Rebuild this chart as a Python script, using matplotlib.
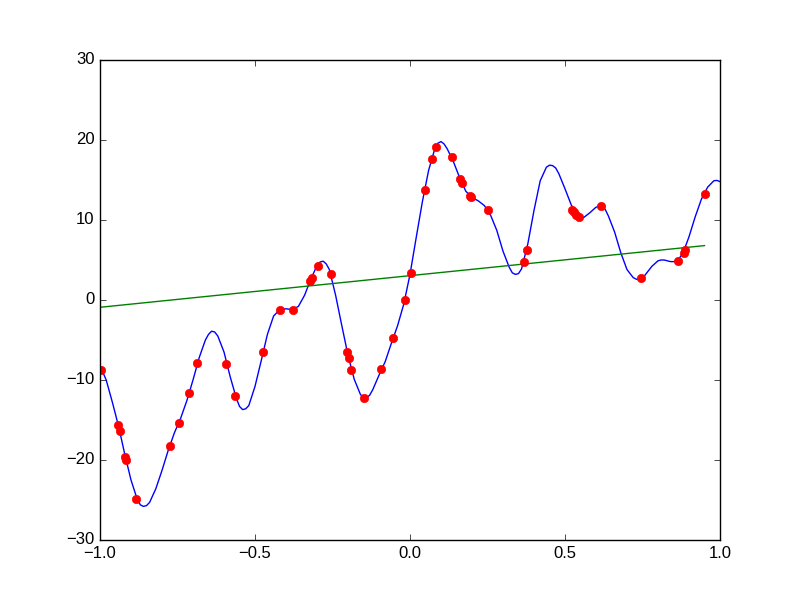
import numpy as np
import matplotlib
matplotlib.use("Agg")
import matplotlib.pyplot as plt

# sampled data points
pts_x = [-0.997, -0.941, -0.935, -0.919, -0.916, -0.885, -0.773, -0.744,
         -0.712, -0.686, -0.592, -0.565, -0.473, -0.418, -0.376, -0.323,
         -0.317, -0.298, -0.255, -0.202, -0.198, -0.190, -0.147, -0.094,
         -0.054, -0.016, 0.002, 0.048, 0.070, 0.084, 0.134, 0.161, 0.168,
         0.195, 0.198, 0.251, 0.368, 0.376, 0.523, 0.528, 0.537, 0.545,
         0.616, 0.745, 0.866, 0.883, 0.887, 0.950]
pts_y = [-8.8, -15.6, -16.4, -19.6, -20.0, -24.9, -18.2, -15.4,
         -11.6, -7.9, -8.0, -11.95, -6.5, -1.3, -1.2, 2.35,
         2.7, 4.3, 3.2, -6.5, -7.3, -8.7, -12.2, -8.6,
         -4.7, 0.06, 3.4, 13.7, 17.6, 19.15, 17.9, 15.1, 14.6,
         13.0, 12.9, 11.2, 4.8, 6.2, 11.3, 11.0, 10.6, 10.4,
         11.7, 2.8, 4.9, 5.85, 6.2, 13.2]

# fitted curve
curve_x = [-1.00, -0.99, -0.98, -0.96, -0.94, -0.92, -0.90, -0.88, -0.87,
           -0.86, -0.85, -0.84, -0.82, -0.80, -0.78, -0.76, -0.74, -0.72,
           -0.70, -0.68, -0.66, -0.65, -0.64, -0.63, -0.62, -0.60, -0.58,
           -0.56, -0.55, -0.54, -0.53, -0.52, -0.50, -0.48, -0.46, -0.44,
           -0.42, -0.40, -0.38, -0.36, -0.34, -0.32, -0.30, -0.29, -0.28,
           -0.27, -0.26, -0.24, -0.22, -0.20, -0.18, -0.16, -0.15, -0.14,
           -0.13, -0.12, -0.10, -0.08, -0.06, -0.04, -0.02, 0.00, 0.02,
           0.04, 0.06, 0.08, 0.09, 0.10, 0.11, 0.12, 0.14, 0.16,
           0.18, 0.20, 0.22, 0.24, 0.26, 0.28, 0.30, 0.32, 0.33,
           0.34, 0.35, 0.36, 0.38, 0.40, 0.42, 0.44, 0.45, 0.46,
           0.47, 0.48, 0.50, 0.52, 0.54, 0.55, 0.56, 0.58, 0.60,
           0.61, 0.62, 0.63, 0.64, 0.66, 0.68, 0.70, 0.72, 0.73,
           0.74, 0.75, 0.76, 0.78, 0.80, 0.81, 0.82, 0.84, 0.86,
           0.88, 0.90, 0.92, 0.94, 0.96, 0.98, 0.99, 1.00]
curve_y = [-8.7, -9.1, -10.0, -12.8, -15.8, -19.3, -22.5, -24.9, -25.6,
           -25.8, -25.7, -25.3, -23.6, -21.3, -18.8, -16.6, -14.8, -12.6,
           -10.0, -7.2, -5.0, -4.3, -3.9, -4.0, -4.5, -6.5, -9.6,
           -12.3, -13.3, -13.7, -13.6, -13.2, -10.8, -7.6, -4.3, -2.0,
           -1.2, -1.1, -1.2, -0.8, 0.6, 2.6, 4.3, 4.75, 4.85,
           4.5, 3.8, 0.6, -3.2, -6.9, -9.9, -11.8, -12.2, -12.2,
           -11.9, -11.2, -9.4, -7.7, -5.4, -3.2, -0.5, 3.2, 7.8,
           12.3, 16.2, 18.9, 19.6, 19.8, 19.5, 18.9, 17.3, 15.3,
           13.6, 12.8, 12.4, 11.8, 10.6, 8.7, 6.1, 4.1, 3.4,
           3.2, 3.3, 3.9, 7.0, 11.2, 14.9, 16.6, 16.85, 16.8,
           16.5, 15.8, 13.9, 11.9, 10.5, 10.3, 10.3, 10.9, 11.6,
           11.7, 11.7, 11.3, 10.5, 8.5, 5.9, 3.8, 2.8, 2.6,
           2.55, 2.7, 3.2, 4.2, 4.9, 5.0, 5.0, 4.8, 4.8,
           5.8, 7.9, 10.4, 12.6, 14.1, 14.9, 14.95, 14.8]

# linear fit
line_x = [-0.997, 0.950]
line_y = [-0.9, 6.8]

plt.style.use('classic')
plt.rcParams['font.family'] = ['Liberation Sans', 'DejaVu Sans']

fig = plt.figure(figsize=(8, 6), dpi=100)
ax = fig.add_subplot(111)
ax.plot(curve_x, curve_y, 'b-')
ax.plot(line_x, line_y, 'g-')
ax.plot(pts_x, pts_y, 'ro', markeredgecolor='r')
ax.set_xlim(-1, 1)
ax.set_ylim(-30, 30)
ax.set_xticks([-1.0, -0.5, 0.0, 0.5, 1.0])
ax.set_yticks([-30, -20, -10, 0, 10, 20, 30])

fig.savefig("out.png", dpi=100)
